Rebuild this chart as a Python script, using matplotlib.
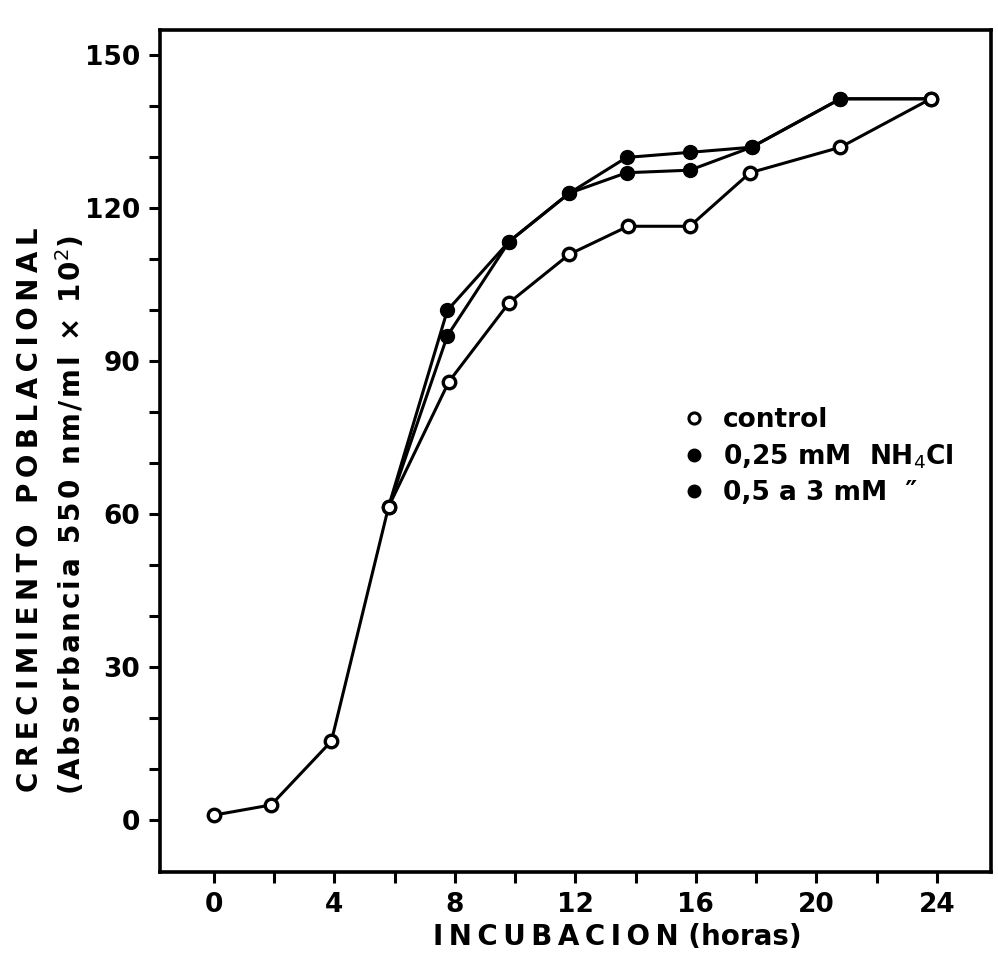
import numpy as np
import matplotlib.pyplot as plt
from matplotlib.lines import Line2D

# valores (horas, absorbancia x 10^2)
horas_control = [0, 1.9, 3.9, 5.8, 7.8, 9.8, 11.8, 13.75, 15.8, 17.8, 20.8, 23.8]
control = [1, 3, 15.5, 61.5, 86, 101.5, 111, 116.5, 116.5, 127, 132, 141.5]

horas_nh4 = [5.8, 7.75, 9.8, 11.8, 13.7, 15.8, 17.85, 20.8, 23.8]
nh4_025 = [61.5, 100, 113.5, 123, 130, 131, 132, 141.5, 141.5]
nh4_05_3 = [61.5, 95, 113.5, 123, 127, 127.5, 132, 141.5, 141.5]

etiquetas = ["control", r"0,25 mM  NH$_4$Cl", "0,5 a 3 mM  \u2033"]

plt.rcParams['font.family'] = 'DejaVu Sans'
fig = plt.figure(figsize=(9.98, 9.67), dpi=100)
ax = fig.add_axes([0.160, 0.098, 0.833, 0.871])

ax.plot(horas_nh4, nh4_025, color="black", lw=2.2, marker='o', ms=10, zorder=2)
ax.plot(horas_nh4, nh4_05_3, color="black", lw=2.2, marker='o', ms=10, zorder=2)
ax.plot(horas_control, control, color="black", lw=2.2, marker='o', ms=9,
        mfc="white", mec="black", mew=2.4, zorder=3)

ax.set_xlim(-1.8, 25.8)
ax.set_ylim(-10.2, 155)
ax.set_xticks(np.arange(0, 25, 4))
ax.set_xticks(np.arange(2, 25, 4), minor=True)
ax.set_yticks(np.arange(0, 151, 30))
ax.set_yticks(np.arange(10, 151, 10), minor=True)
ax.tick_params(which='both', direction='out', length=8, width=2.2,
               labelsize=19, pad=6)
for sp in ax.spines.values():
    sp.set_linewidth(2.6)
for lab in ax.get_xticklabels() + ax.get_yticklabels():
    lab.set_fontweight('bold')

ax.set_xlabel("\u2009".join("INCUBACION") + " (horas)", fontsize=20,
              fontweight='bold')
ax.xaxis.set_label_coords(0.55, -0.06)
fig.text(0.030, 0.473, "\u2009".join("CRECIMIENTO POBLACIONAL"), rotation=90,
         fontsize=20, fontweight='bold', ha='center', va='center')
fig.text(0.071, 0.467, "\u200a".join("(Absorbancia 550 nm/ml \u00d7 10") + "$^2$)",
         rotation=90, fontsize=20, fontweight='bold', ha='center', va='center')

handles = [Line2D([], [], ls='none', marker='o', ms=8, mfc='white', mec='black', mew=2.2),
           Line2D([], [], ls='none', marker='o', ms=9, color='black'),
           Line2D([], [], ls='none', marker='o', ms=9, color='black')]
leg = ax.legend(handles, etiquetas, loc='upper left', bbox_to_anchor=(0.62, 0.565),
                frameon=False, fontsize=19, handlelength=0.6, handletextpad=0.8,
                labelspacing=0.35, borderaxespad=0)
for t in leg.get_texts():
    t.set_fontweight('bold')

plt.savefig('out.png', dpi=100)
